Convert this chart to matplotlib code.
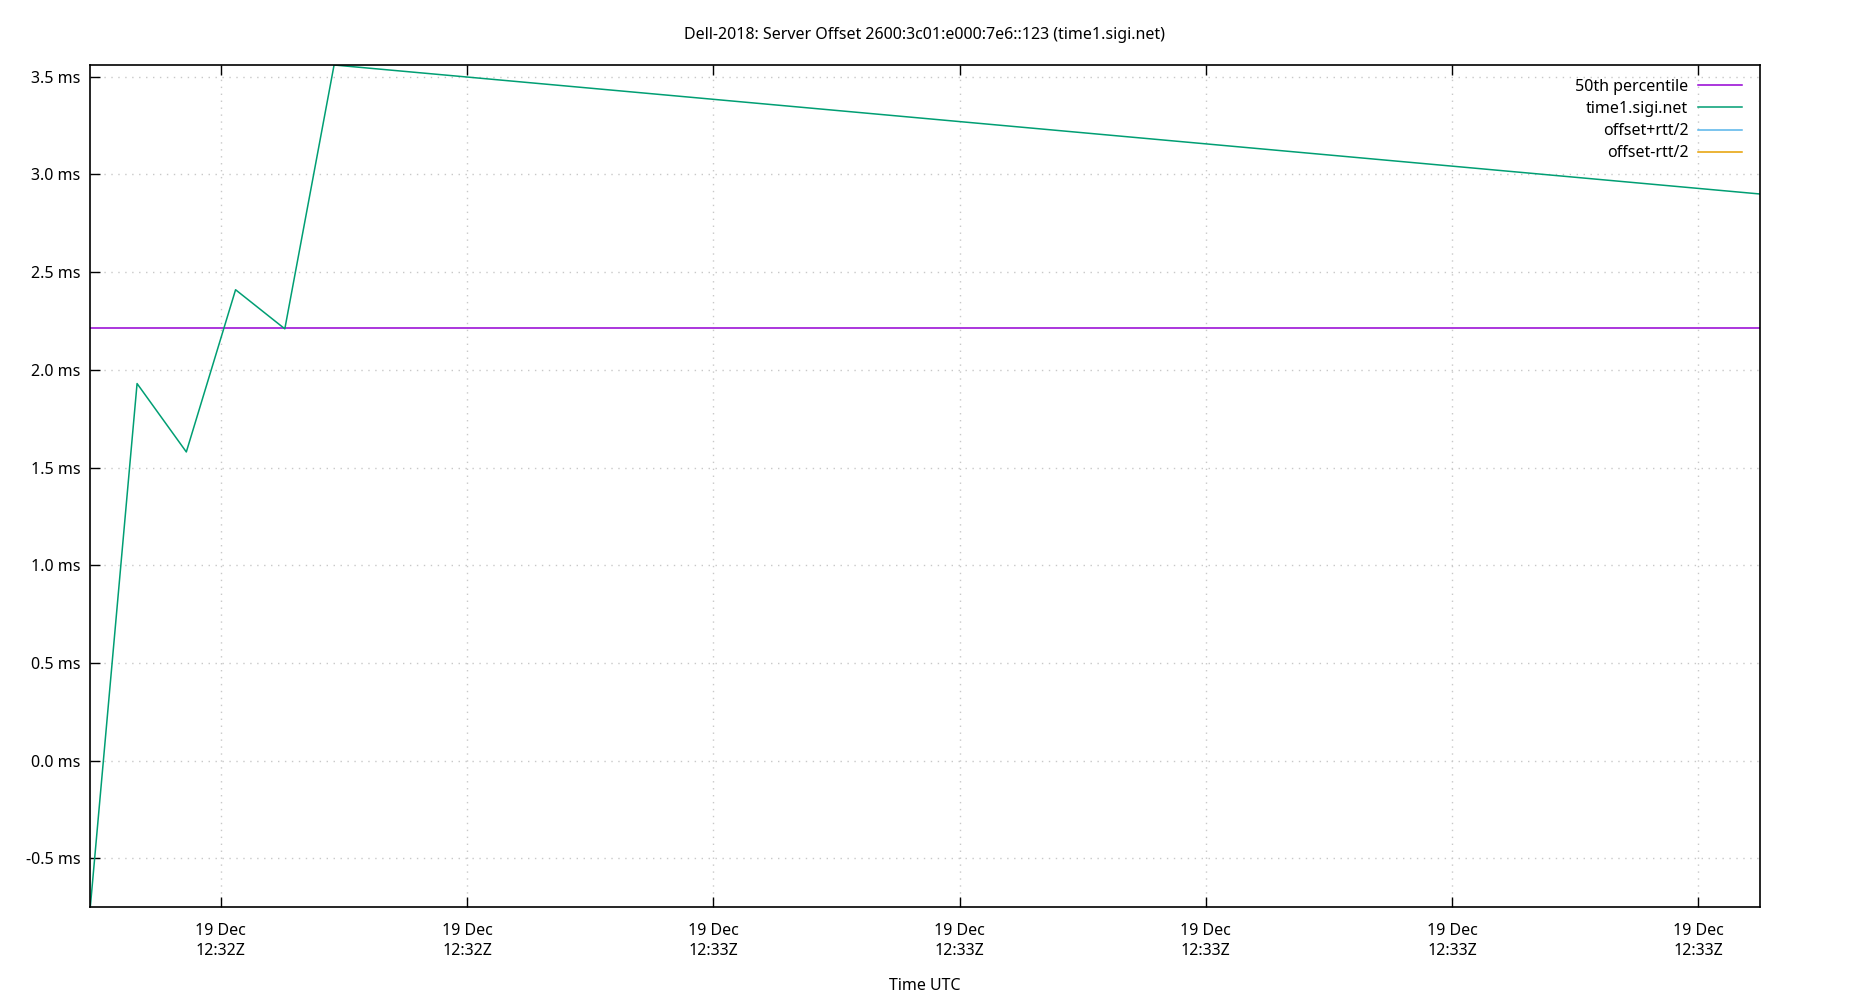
import numpy as np
import pandas as pd
import matplotlib
matplotlib.use('Agg')
import matplotlib.pyplot as plt
import matplotlib.dates as mdates
from matplotlib.ticker import MultipleLocator, FuncFormatter

plt.rcParams['font.family'] = ['Noto Sans', 'DejaVu Sans']

#sample times (UTC) and offsets
times = pd.to_datetime(['2019-12-19 12:32:34.7',
                        '2019-12-19 12:32:36.6',
                        '2019-12-19 12:32:38.6',
                        '2019-12-19 12:32:40.6',
                        '2019-12-19 12:32:42.6',
                        '2019-12-19 12:32:44.6',
                        '2019-12-19 12:33:42.5'])
offset_ms = [-0.75, 1.93, 1.58, 2.41, 2.21, 3.56, 2.90]
median_ms = 2.213

#upper/lower bounds have no visible points in the chart
upper_times, upper_ms = [], []
lower_times, lower_ms = [], []

title = 'Dell-2018: Server Offset 2600:3c01:e000:7e6::123 (time1.sigi.net)'

fig = plt.figure(figsize=(18.5, 10), dpi=100)
ax = fig.add_axes([0.0488, 0.0927, 0.9025, 0.8423])

ax.plot([times[0], times[-1]], [median_ms, median_ms],
        color='#9400d3', lw=1.1, label='50th percentile')
ax.plot(times, offset_ms, color='#009e73', lw=1.1, label='time1.sigi.net')
ax.plot(upper_times, upper_ms, color='#56b4e9', lw=1.1, label='offset+rtt/2')
ax.plot(lower_times, lower_ms, color='#e69f00', lw=1.1, label='offset-rtt/2')

ax.set_xlim(times[0], times[-1])
ax.set_ylim(min(offset_ms), max(offset_ms))

#axes ticks
ax.xaxis.set_major_locator(mdates.SecondLocator(bysecond=range(0, 60, 10)))
ax.xaxis.set_major_formatter(mdates.DateFormatter('%d %b\n%H:%MZ'))
ax.yaxis.set_major_locator(MultipleLocator(0.5))
ax.yaxis.set_major_formatter(FuncFormatter(lambda v, p: '%.1f ms' % (v + 0.0)))

ax.tick_params(axis='x', direction='in', length=7, width=1, top=True,
               labelsize=11.5, pad=11)
ax.tick_params(axis='y', direction='in', length=7, width=1, right=False,
               labelsize=11.5, pad=7)
for lab in ax.get_xticklabels():
    lab.set_linespacing(1.35)

ax.grid(True, color='#c8c8c8', linestyle=(0, (1, 4)), lw=1)
for s in ax.spines.values():
    s.set_linewidth(1.2)

ax.set_xlabel('Time UTC', fontsize=11.5, labelpad=14)
fig.suptitle(title, fontsize=11.5, y=0.973, x=0.5)

ax.legend(loc='upper right', bbox_to_anchor=(0.993, 0.991),
          markerfirst=False, frameon=False,
          fontsize=11.5, handlelength=2.75, handletextpad=0.6,
          labelspacing=0.38, borderaxespad=0.0)

fig.savefig('out.png', dpi=100)
